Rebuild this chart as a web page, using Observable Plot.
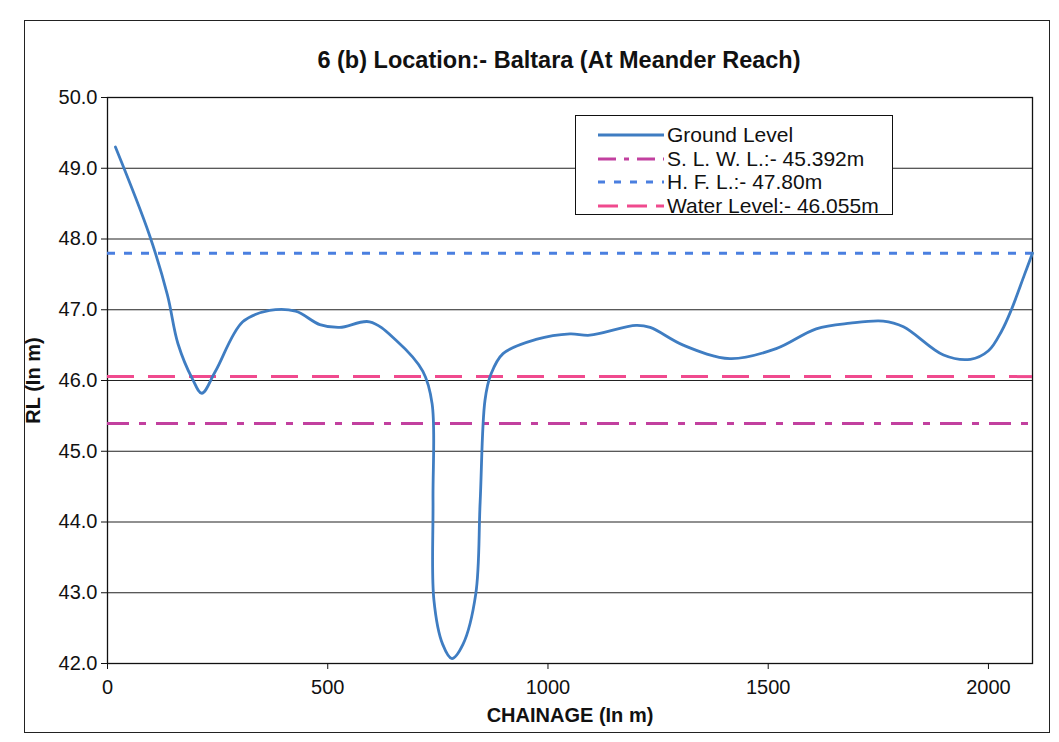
<!DOCTYPE html>
<html>
<head>
<meta charset="utf-8">
<script src="https://cdn.jsdelivr.net/npm/d3@7"></script>
<script src="https://cdn.jsdelivr.net/npm/@observablehq/plot@0.6"></script>
<style>
  html, body { margin: 0; padding: 0; background: #fff; }
  #wrap { position: relative; width: 1059px; height: 742px; overflow: hidden; font-family: "Liberation Sans", Arial, sans-serif; color: #111; }
  #border { position: absolute; left: 24px; top: 20px; width: 1026px; height: 713px; border: 1.5px solid #222; box-sizing: border-box; }
  #title { position: absolute; left: 0; width: 1118px; top: 47px; text-align: center; font-weight: bold; font-size: 23.5px; }
  #chart { position: absolute; left: 0; top: 0; }
  #legend { position: absolute; left: 575px; top: 115px; width: 318px; height: 100px; border: 1.5px solid #111; background: #fff; box-sizing: border-box; font-size: 21px; }
  .row { position: absolute; left: 0; height: 24px; display: flex; align-items: center; }
  .row svg { margin-left: 22px; margin-right: 3px; }
  #chart svg g[aria-label$="axis label"] text { font-weight: bold; font-size: 20px; }
</style>
</head>
<body>
<div id="wrap">
  <div id="border"></div>
  <div id="chart"></div>
  <div id="title">6 (b) Location:- Baltara (At Meander Reach)</div>
  <div id="legend"></div>
</div>
<script>
// ---- data ----
const chainage = [18, 95, 136, 160, 193, 214, 245, 307, 368, 427, 482, 527, 595, 655, 716, 737, 739, 741, 761, 782, 807, 836, 846, 857, 870, 898, 973, 1050, 1095, 1200, 1232, 1307, 1413, 1518, 1609, 1686, 1761, 1807, 1898, 1959, 2000, 2030, 2052, 2082, 2100];
const groundLevel = [49.3, 48.06, 47.21, 46.52, 46.02, 45.82, 46.13, 46.83, 46.99, 46.98, 46.79, 46.75, 46.83, 46.57, 46.13, 45.67, 44.3, 42.9, 42.27, 42.07, 42.27, 42.98, 44.28, 45.72, 46.08, 46.38, 46.58, 46.66, 46.64, 46.78, 46.75, 46.5, 46.31, 46.45, 46.73, 46.81, 46.84, 46.76, 46.36, 46.3, 46.42, 46.7, 47.0, 47.5, 47.8];
const slwl = 45.392;
const hfl = 47.80;
const waterLevel = 46.055;
const yTicks = [42, 43, 44, 45, 46, 47, 48, 49, 50];
const xTicks = [0, 500, 1000, 1500, 2000];
const seriesNames = ["Ground Level", "S. L. W. L.:- 45.392m", "H. F. L.:- 47.80m", "Water Level:- 46.055m"];

const colors = { ground: "#3f7dc2", slwl: "#c2409f", hfl: "#4a7fe0", wl: "#f04a8e" };
const dashes = { slwl: "22,10,7,10", hfl: "8,9", wl: "27,14" };

const ground = chainage.map((c, i) => ({ x: c, y: groundLevel[i] }));

const chart = Plot.plot({
  width: 1059,
  height: 742,
  marginLeft: 107,
  marginRight: 27,
  marginTop: 97,
  marginBottom: 79,
  style: { fontFamily: "'Liberation Sans', Arial, sans-serif", fontSize: "20px", color: "#111", background: "transparent" },
  x: { domain: [0, 2100], ticks: xTicks, tickSize: 6, tickPadding: 10, tickFormat: d3.format("d"), label: "CHAINAGE (In m)", labelAnchor: "center", labelArrow: "none", labelOffset: 58 },
  y: { domain: [42, 50], ticks: yTicks, tickSize: 6, tickPadding: 4, tickFormat: d3.format(".1f"), label: "RL (In m)", labelAnchor: "center", labelArrow: "none", labelOffset: 82 },
  marks: [
    Plot.ruleY(yTicks, { stroke: "#222", strokeWidth: 1.2 }),
    Plot.frame({ stroke: "#111", strokeWidth: 1.3 }),
    Plot.ruleY([slwl], { stroke: colors.slwl, strokeWidth: 3, strokeDasharray: dashes.slwl }),
    Plot.ruleY([hfl], { stroke: colors.hfl, strokeWidth: 3, strokeDasharray: dashes.hfl }),
    Plot.ruleY([waterLevel], { stroke: colors.wl, strokeWidth: 3, strokeDasharray: dashes.wl }),
    Plot.line(ground, { x: "x", y: "y", stroke: colors.ground, strokeWidth: 2.8, curve: "catmull-rom" })
  ]
});
document.getElementById("chart").appendChild(chart);

// ---- legend ----
const legendItems = [
  { name: seriesNames[0], color: colors.ground, dash: null },
  { name: seriesNames[1], color: colors.slwl, dash: "18,8,5,8" },
  { name: seriesNames[2], color: colors.hfl, dash: "7,9" },
  { name: seriesNames[3], color: colors.wl, dash: "20,9" }
];
const legend = document.getElementById("legend");
legendItems.forEach((it, i) => {
  const row = document.createElement("div");
  row.className = "row";
  row.style.top = (7 + i * 23.5) + "px";
  row.innerHTML = `<svg width="66" height="10"><line x1="0" y1="5" x2="66" y2="5" stroke="${it.color}" stroke-width="3" ${it.dash ? `stroke-dasharray="${it.dash}"` : ""}/></svg><span>${it.name}</span>`;
  legend.appendChild(row);
});
</script>
</body>
</html>
